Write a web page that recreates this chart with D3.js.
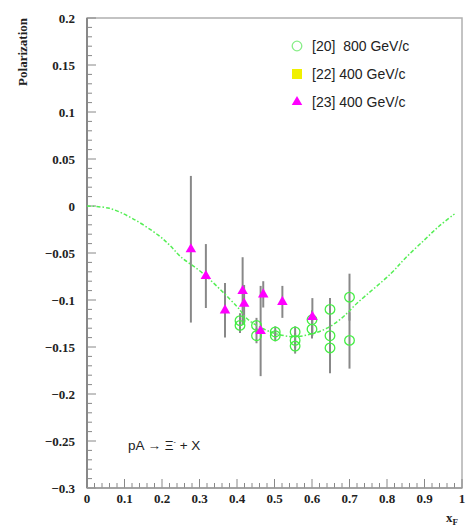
<!DOCTYPE html>
<html><head><meta charset="utf-8">
<script src="https://cdn.jsdelivr.net/npm/d3@7/dist/d3.min.js"></script>
<style>body{margin:0;background:#fff}</style>
</head><body>
<svg id="c" width="467" height="529"></svg>
<script>
// [23] 400 GeV/c (triangles): x, polarization, error
const triX   = [0.277, 0.317, 0.368, 0.415, 0.419, 0.470, 0.463, 0.521, 0.601];
const triY   = [-0.046, -0.0745, -0.111, -0.0905, -0.104, -0.094, -0.133, -0.102, -0.118];
const triErr = [0.078, 0.034, 0.029, 0.036, 0.02, 0.014, 0.048, 0.017, 0.02];
// [20] 800 GeV/c (open circles)
const cirX   = [0.408, 0.408, 0.452, 0.452, 0.502, 0.502, 0.555, 0.555, 0.555, 0.600, 0.600, 0.648, 0.648, 0.648, 0.700, 0.700];
const cirY   = [-0.122, -0.127, -0.127, -0.138, -0.134, -0.138, -0.134, -0.143, -0.149, -0.121, -0.131, -0.110, -0.138, -0.151, -0.097, -0.143];
const cirErr = [0.008, 0.008, 0.008, 0.008, 0.006, 0.006, 0.006, 0.008, 0.008, 0.01, 0.01, 0.012, 0.04, 0.025, 0.025, 0.03];
// model curve (dashed)
const curveX = [0, 0.06, 0.12, 0.19, 0.22, 0.25, 0.31, 0.40, 0.43, 0.49, 0.55, 0.60, 0.64, 0.68, 0.72, 0.81, 0.85, 0.90, 0.94, 0.98];
const curveY = [0, -0.0025, -0.013, -0.031, -0.0415, -0.054, -0.072, -0.107, -0.121, -0.134, -0.139, -0.136, -0.130, -0.119, -0.1035, -0.072, -0.055, -0.036, -0.021, -0.0085];
// tick labels
const xTicks = [0, 0.1, 0.2, 0.3, 0.4, 0.5, 0.6, 0.7, 0.8, 0.9, 1];
const yTicks = [0.2, 0.15, 0.1, 0.05, 0, -0.05, -0.1, -0.15, -0.2, -0.25, -0.3];
const legendLabels = ["[20]\u00A0\u00A0800 GeV/c", "[22] 400 GeV/c", "[23] 400 GeV/c"];

const svg = d3.select("#c");
const L = 87, R = 462, T = 18, B = 488;
const x = d3.scaleLinear().domain([0, 1]).range([L, R]);
const y = d3.scaleLinear().domain([-0.3, 0.2]).range([B, T]);
const serif = "'Liberation Serif','DejaVu Serif',serif";
const sans = "'Liberation Sans',Arial,sans-serif";

// frame
svg.append("rect").attr("x", L).attr("y", T).attr("width", R - L).attr("height", B - T)
  .attr("fill", "none").attr("stroke", "#b0b0b0").attr("stroke-width", 1.5);

// ticks (inside)
const yMinor = d3.range(-30, 21).map(d => d / 100);
svg.append("g").selectAll("line").data(yMinor).join("line")
  .attr("x1", L).attr("x2", d => L + (Math.abs(Math.round(d * 100)) % 5 === 0 ? 9 : 5))
  .attr("y1", d => y(d)).attr("y2", d => y(d))
  .attr("stroke", "#888").attr("stroke-width", 1);
const xMinor = d3.range(0, 51).map(d => d / 50);
svg.append("g").selectAll("line").data(xMinor).join("line")
  .attr("x1", d => x(d)).attr("x2", d => x(d))
  .attr("y1", B).attr("y2", d => B - (Math.round(d * 50) % 5 === 0 ? 9 : 5))
  .attr("stroke", "#888").attr("stroke-width", 1);
svg.append("line").attr("x1", L).attr("x2", L).attr("y1", T).attr("y2", B).attr("stroke", "#888").attr("stroke-width", 2);
svg.append("line").attr("x1", L).attr("x2", R).attr("y1", B).attr("y2", B).attr("stroke", "#999").attr("stroke-width", 1.5);

// tick labels
svg.append("g").selectAll("text").data(yTicks).join("text")
  .attr("x", 75).attr("y", d => y(d) + 4.5).attr("text-anchor", "end")
  .attr("font-family", serif).attr("font-weight", "bold").attr("font-size", 13).attr("fill", "#222")
  .text(d => d3.format("")(d));
svg.append("g").selectAll("text").data(xTicks).join("text")
  .attr("x", d => x(d)).attr("y", 503).attr("text-anchor", "middle")
  .attr("font-family", serif).attr("font-weight", "bold").attr("font-size", 13).attr("fill", "#222")
  .text(d => d3.format("")(d));

// axis titles
svg.append("text").attr("transform", "translate(27,18) rotate(-90)").attr("text-anchor", "end")
  .attr("font-family", serif).attr("font-weight", "bold").attr("font-size", 13).attr("fill", "#222")
  .text("Polarization");
const xt = svg.append("text").attr("x", 446).attr("y", 522)
  .attr("font-family", serif).attr("font-weight", "bold").attr("font-size", 13).attr("fill", "#222");
xt.append("tspan").text("x");
xt.append("tspan").attr("font-size", 9).attr("dy", 3).text("F");

// error bars
const errG = svg.append("g").attr("stroke", "#888").attr("stroke-width", 2);
cirX.forEach((cx, i) => errG.append("line").attr("x1", x(cx)).attr("x2", x(cx))
  .attr("y1", y(cirY[i] + cirErr[i])).attr("y2", y(cirY[i] - cirErr[i])));
triX.forEach((tx, i) => errG.append("line").attr("x1", x(tx)).attr("x2", x(tx))
  .attr("y1", y(triY[i] + triErr[i])).attr("y2", y(triY[i] - triErr[i])));

// curve
const line = d3.line().x(d => x(d[0])).y(d => y(d[1])).curve(d3.curveCatmullRom.alpha(0.5));
svg.append("path").datum(curveX.map((d, i) => [d, curveY[i]])).attr("d", line)
  .attr("fill", "none").attr("stroke", "#55ee55").attr("stroke-width", 1.5)
  .attr("stroke-dasharray", "4,2,1.5,2");

// circles
svg.append("g").selectAll("circle").data(cirX).join("circle")
  .attr("cx", d => x(d)).attr("cy", (d, i) => y(cirY[i])).attr("r", 4.8)
  .attr("fill", "none").attr("stroke", "#44ee44").attr("stroke-width", 1.3);
// triangles
const tri = d3.symbol().type(d3.symbolTriangle).size(48);
svg.append("g").selectAll("path").data(triX).join("path")
  .attr("d", tri).attr("transform", (d, i) => `translate(${x(d)},${y(triY[i])})`)
  .attr("fill", "#ff00ff");

// legend
const lg = svg.append("g");
lg.append("circle").attr("cx", 297).attr("cy", 46).attr("r", 4.8).attr("fill", "none").attr("stroke", "#88ee88").attr("stroke-width", 1.3);
lg.append("rect").attr("x", 292).attr("y", 69).attr("width", 10).attr("height", 10).attr("fill", "#f0f000");
lg.append("path").attr("d", tri).attr("transform", "translate(297,102)").attr("fill", "#ff00ff");
legendLabels.forEach((t, i) => lg.append("text").attr("x", 312).attr("y", 51 + i * 28)
  .attr("font-family", sans).attr("font-size", 14).attr("fill", "#222").text(t));

// annotation
const an = svg.append("text").attr("x", 128).attr("y", 450).attr("font-family", sans).attr("font-size", 13.5).attr("fill", "#222");
an.append("tspan").text("pA \u2192 \u039E");
an.append("tspan").attr("font-size", 7).attr("dy", -6).text("-");
an.append("tspan").attr("dy", 6).text(" + X");
</script>
</body></html>
